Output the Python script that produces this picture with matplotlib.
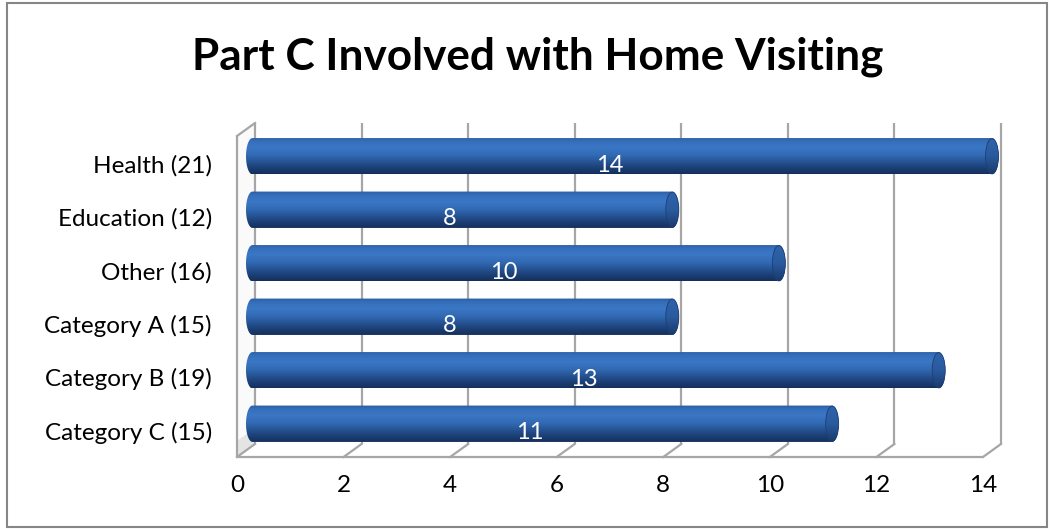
import numpy as np
import matplotlib
matplotlib.use("Agg")
import matplotlib.pyplot as plt
from matplotlib.transforms import ScaledTranslation, IdentityTransform
from matplotlib.patches import PathPatch, Ellipse, Rectangle, Polygon
from matplotlib.path import Path
from matplotlib.colors import LinearSegmentedColormap

# Data
categories = ["Health (21)", "Education (12)", "Other (16)",
              "Category A (15)", "Category B (19)", "Category C (15)"]
values = [14, 8, 10, 8, 13, 11]
xticks = [0, 2, 4, 6, 8, 10, 12, 14]
title = "Part C Involved with Home Visiting"

W, H, DPI = 1050, 529, 100
plt.rcParams["font.family"] = ["Lato", "DejaVu Sans"]

fig = plt.figure(figsize=(W / DPI, H / DPI), dpi=DPI)
fig.patch.set_facecolor("white")

# front plane of the 3D box in figure pixels
x0px, x1px = 237, 983
y0px, y1px = 457, 136
ax = fig.add_axes([x0px / W, 1 - y0px / H, (x1px - x0px) / W, (y0px - y1px) / H])
ax.set_xlim(0, 14)
ax.axis("off")

n = len(categories)
ypos = [n - 1 - i for i in range(n)]
ylo, yhi = -0.5, n - 0.5
ax.set_ylim(ylo, yhi)

# depth offsets (pixels): back wall and bar mid-depth
depth_dx, depth_dy = 18, 13
back = ax.transData + ScaledTranslation(depth_dx / DPI, depth_dy / DPI, fig.dpi_scale_trans)
mid = ax.transData + ScaledTranslation(depth_dx / 2 / DPI, depth_dy / 2 / DPI, fig.dpi_scale_trans)
ident = IdentityTransform()

grid_c = "#a6a6a6"
glw = 1.6


def seg(p_front, p_back, **kw):
    a = ax.transData.transform(p_front)
    b = back.transform(p_back)
    ax.add_line(plt.Line2D([a[0], b[0]], [a[1], b[1]], transform=ident,
                           clip_on=False, **kw))


# left side wall
pts_front = ax.transData.transform([[0, ylo], [0, yhi]])
pts_back = back.transform([[0, yhi], [0, ylo]])
ax.add_patch(Polygon(np.vstack([pts_front, pts_back]), closed=True, transform=ident,
                     facecolor="#fafafa", edgecolor="none", zorder=1, clip_on=False))
shade_front = ax.transData.transform([[0, ylo], [0, ylo + 0.3]])
shade_back = back.transform([[0, ylo + 0.3], [0, ylo]])
ax.add_patch(Polygon(np.vstack([shade_front, shade_back]), closed=True, transform=ident,
                     facecolor="#e4e4e4", edgecolor="none", zorder=1, clip_on=False))

# back wall gridlines
for t in xticks:
    ax.plot([t, t], [ylo, yhi], color=grid_c, lw=glw, transform=back, zorder=2,
            solid_capstyle="butt", clip_on=False)
# floor: front edge and depth ticks
ax.plot([0, 14], [ylo, ylo], color=grid_c, lw=glw, zorder=2, solid_capstyle="butt",
        clip_on=False)
for t in xticks:
    seg([t, ylo], [t, ylo], color=grid_c, lw=glw, zorder=2)
# side wall front edge and top
ax.plot([0, 0], [ylo, yhi], color=grid_c, lw=glw, zorder=2, solid_capstyle="butt",
        clip_on=False)
seg([0, yhi], [0, yhi], color=grid_c, lw=glw, zorder=2)

# cylinder bars
bar_h = 0.68
px_per_unit = (x1px - x0px) / 14
rx = 6.5 / px_per_unit  # horizontal radius of the elliptical ends
cyl = LinearSegmentedColormap.from_list(
    "cyl", [(0.0, "#142f5c"), (0.22, "#1f4680"), (0.5, "#3169b2"),
            (0.72, "#3b77c6"), (0.88, "#3670bc"), (1.0, "#2c5ea4")])
cap_cmap = LinearSegmentedColormap.from_list(
    "cap", [(0.0, "#183a6c"), (0.5, "#2a5b9f"), (1.0, "#2f63aa")])
grad = np.linspace(0, 1, 64).reshape(-1, 1)

theta = np.linspace(-np.pi / 2, np.pi / 2, 40)
for y, v in zip(ypos, values):
    top, bot = y + bar_h / 2, y - bar_h / 2
    right = np.column_stack([v + rx * np.cos(theta), y + bar_h / 2 * np.sin(theta)])
    left = np.column_stack([rx - rx * np.cos(theta[::-1]), y + bar_h / 2 * np.sin(theta[::-1])])
    verts = np.vstack([right, left, right[:1]])
    codes = [Path.MOVETO] + [Path.LINETO] * (len(verts) - 2) + [Path.CLOSEPOLY]
    body = PathPatch(Path(verts, codes), transform=mid, facecolor="none",
                     edgecolor="none", zorder=3, clip_on=False)
    ax.add_patch(body)
    im = ax.imshow(grad, cmap=cyl, origin="lower", aspect="auto",
                   extent=(0, v + rx, bot, top), transform=mid,
                   interpolation="bilinear", zorder=3)
    im.set_clip_box(fig.bbox)
    im.set_clip_path(body)
    # end cap
    cap = Ellipse((v, y), 2 * rx, bar_h * 0.97, transform=mid, facecolor="none",
                  edgecolor="none", zorder=4, clip_on=False)
    ax.add_patch(cap)
    imc = ax.imshow(grad, cmap=cap_cmap, origin="lower", aspect="auto",
                    extent=(v - rx, v + rx, bot, top), transform=mid,
                    interpolation="bilinear", zorder=4)
    imc.set_clip_box(fig.bbox)
    imc.set_clip_path(cap)
    ax.add_patch(Ellipse((v, y), 2 * rx, bar_h * 0.97, transform=mid, facecolor="none",
                         edgecolor="#1c3e74", lw=0.6, zorder=4, clip_on=False))
    # value label
    ax.text(v / 2, y - 0.05, f"{v}", color="white", ha="center", va="center",
            fontsize=17, zorder=5)

ax.set_xlim(0, 14)
ax.set_ylim(ylo, yhi)

# category labels
for y, c in zip(ypos, categories):
    ax.text(-0.47, y - 0.05, c, ha="right", va="center", fontsize=17.5, color="black")

# x tick labels
for t in xticks:
    ax.text(t, ylo - 0.53, f"{t}", ha="center", va="center", fontsize=17.5, color="black")

fig.text(538 / W, 1 - 57 / H, title, ha="center", va="center", fontsize=31.8,
         fontweight="bold", color="black")

# chart border
fig.add_artist(Rectangle((7 / W, 2 / H), (1047 - 7) / W, (526 - 2) / H,
                         transform=fig.transFigure, facecolor="none",
                         edgecolor="#868686", lw=1.5))

fig.savefig("out.png", dpi=DPI, facecolor="white")
